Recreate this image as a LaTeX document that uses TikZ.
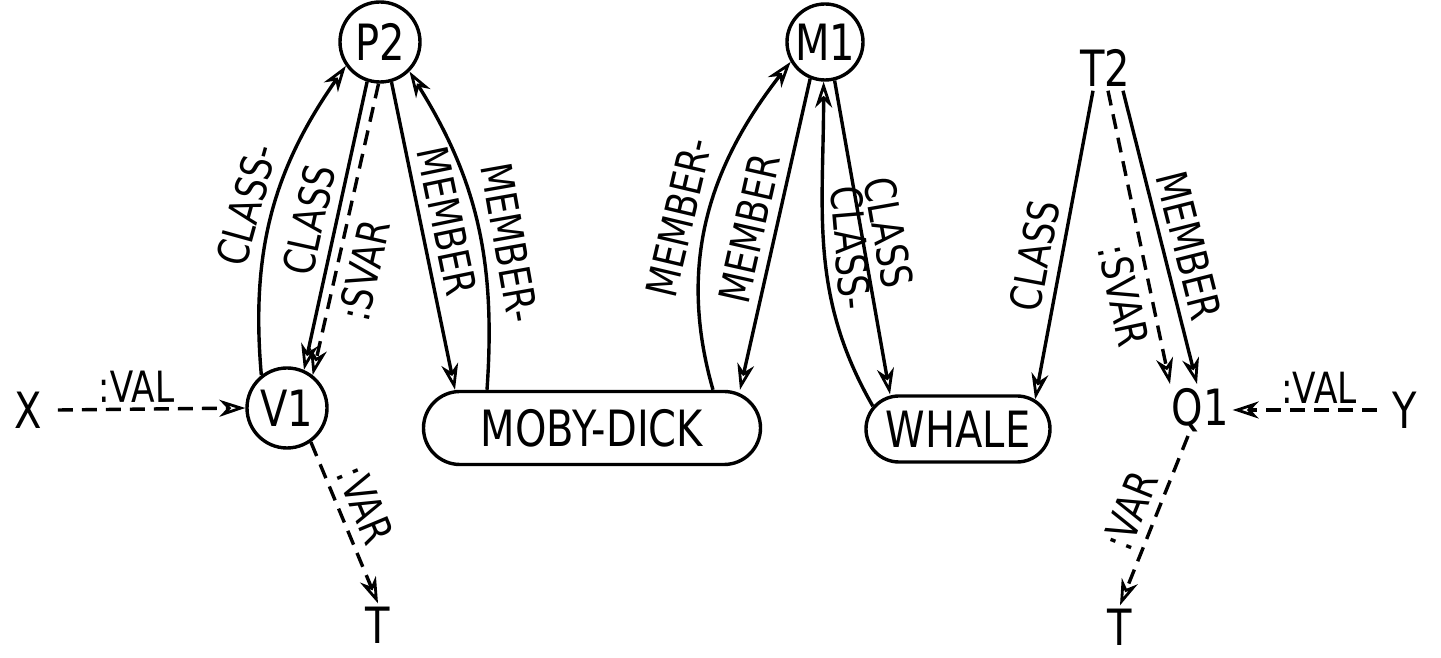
\documentclass[tikz,border=0pt]{standalone}
\usepackage{fontspec}
\setmainfont{DejaVu Sans}[FakeStretch=0.8]
\usetikzlibrary{arrows.meta,shapes.misc}
\begin{document}
\begin{tikzpicture}[x=1pt,y=1pt,
  every node/.style={font=\fontsize{50}{56}\selectfont},
  circ/.style={draw, circle, line width=3.4pt, minimum size=80pt, inner sep=0pt},
  pill/.style={draw, rounded rectangle, line width=3.4pt, inner sep=0pt},
  plain/.style={inner sep=4pt},
  conn/.style={line width=3.4pt, -{Stealth[open,length=26pt,width=17pt,inset=8pt,line width=2.8pt]}},
  dconn/.style={conn, dash pattern=on 15pt off 9pt},
  lab/.style={sloped, inner sep=9pt, font=\fontsize{43}{48}\selectfont},
]
\useasboundingbox (0,0) rectangle (1441,658);

\node[circ] (P2) at (380,616) {P2};
\node[circ] (V1) at (287,250) {V1};
\node[circ, minimum size=76pt] (M1) at (825,616) {M1};
\node[pill, minimum width=337pt, minimum height=73pt] (MD) at (592,230) {MOBY-DICK};
\node[pill, minimum width=184pt, minimum height=66pt] (WH) at (958,229) {WHALE};
\node[plain] (T2) at (1105,590) {T2};
\node[plain] (Q1) at (1200,248) {Q1};
\node[plain] (X) at (28,248) {X};
\node[plain] (Y) at (1405,248) {Y};
\node[plain, anchor=base] (TL) at (378,14) {T};
\node[plain, anchor=base] (TR) at (1120,12) {T};

% left side
\draw[dconn] ([xshift=12pt]X.east) -- node[lab,above,inner sep=5pt,pos=0.42]{:VAL} (V1.west);
\draw[dconn] (V1.-55) -- node[lab,above,pos=0.45]{:VAR} (TL.north);

% P2
\draw[conn] (V1.128) to[out=95,in=235] node[lab,above,pos=0.5]{CLASS-} (P2.215);
\draw[conn] (P2.252) -- node[lab,above,pos=0.5]{CLASS} (V1.66);
\draw[dconn] (P2.268) -- node[lab,below,pos=0.62]{:SVAR} (V1.52);
\draw[conn] (P2.-74) -- node[lab,above,pos=0.47]{MEMBER} ([xshift=-137pt]MD.north);
\draw[conn] ([xshift=-105pt]MD.north) to[out=86,in=-58] node[lab,above,pos=0.42,inner sep=11pt]{MEMBER-} (P2.-45);

% M1
\draw[conn] ([xshift=121pt]MD.north) to[out=106,in=232] node[lab,above,pos=0.48,inner sep=11pt]{MEMBER-} (M1.210);
\draw[conn] (M1.248) -- node[lab,above]{MEMBER} ([xshift=148pt]MD.north);
\draw[conn] (WH.165) to[out=120,in=-90] node[lab,above]{CLASS-} (M1.268);
\draw[conn] (M1.-76) -- node[lab,above]{CLASS} ([xshift=-68pt]WH.north);

% T2
\draw[conn] ([xshift=-12pt]T2.south) -- node[lab,above,pos=0.55]{CLASS} (WH.21);
\draw[dconn] ([xshift=3pt]T2.south) -- node[lab,below,pos=0.68]{:SVAR} ([xshift=-30pt]Q1.north);
\draw[conn] ([xshift=18pt]T2.south) -- node[lab,above,pos=0.55]{MEMBER} ([xshift=-3pt]Q1.north);

% right side
\draw[dconn] ([xshift=-12pt]Y.west) -- node[lab,above,inner sep=5pt,pos=0.4]{:VAL} (Q1.east);
\draw[dconn] ([xshift=-12pt]Q1.south) -- node[lab,above]{:VAR} (TR.north);
\end{tikzpicture}
\end{document}
